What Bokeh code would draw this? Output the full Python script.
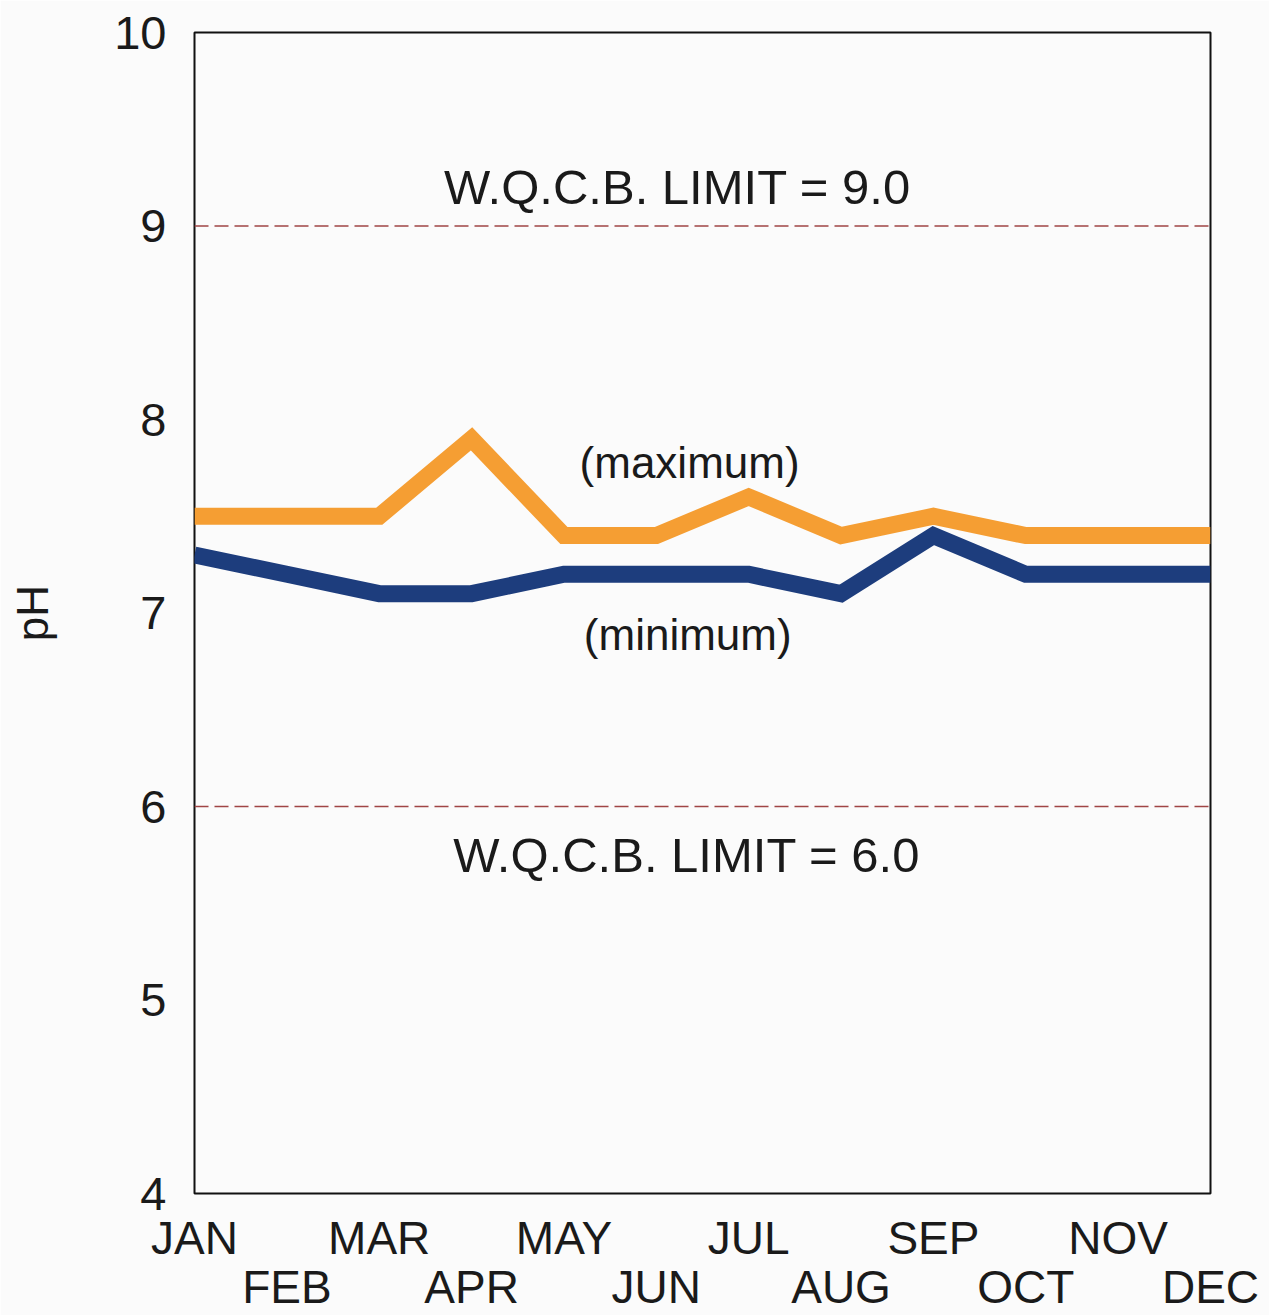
from bokeh.plotting import figure
from bokeh.models import LinearAxis, FixedTicker, Range1d, Span
from bokeh.core.properties import value
from bokeh.embed import file_html
from bokeh.resources import INLINE

months = ["JAN", "FEB", "MAR", "APR", "MAY", "JUN", "JUL", "AUG", "SEP", "OCT", "NOV", "DEC"]
ph_max = [7.5, 7.5, 7.5, 7.9, 7.4, 7.4, 7.6, 7.4, 7.5, 7.4, 7.4, 7.4]
ph_min = [7.3, 7.2, 7.1, 7.1, 7.2, 7.2, 7.2, 7.1, 7.4, 7.2, 7.2, 7.2]
y_ticks = [4, 5, 6, 7, 8, 9, 10]
limit_high = 9.0
limit_low = 6.0

FONT = "Liberation Sans"
TXT = "#1a1a1a"
BG = "#fbfbfb"

xs = list(range(len(months)))

p = figure(width=1269, height=1315, output_backend="svg", toolbar_location=None,
           x_range=Range1d(0, len(months) - 1), y_range=Range1d(4, 10),
           x_axis_location=None, y_axis_location="left",
           min_border_left=194, min_border_right=59, min_border_top=32, min_border_bottom=120,
           background_fill_color=BG, border_fill_color=BG)
p.grid.visible = False
p.outline_line_color = "#111111"
p.outline_line_width = 2

ya = p.yaxis[0]
ya.ticker = FixedTicker(ticks=y_ticks)
ya.axis_line_color = None
ya.major_tick_line_color = None
ya.minor_tick_line_color = None
ya.major_label_text_font = FONT
ya.major_label_text_font_size = "47px"
ya.major_label_text_color = TXT
ya.major_label_standoff = 22
ya.axis_label = "pH"
ya.axis_label_text_font = FONT
ya.axis_label_text_font_size = "44px"
ya.axis_label_text_font_style = "normal"
ya.axis_label_text_color = TXT
ya.axis_label_standoff = 54

def month_axis(ticks, standoff):
    ax = LinearAxis(ticker=FixedTicker(ticks=ticks),
                    major_label_overrides={i: months[i] for i in ticks})
    ax.axis_line_color = None
    ax.major_tick_line_color = None
    ax.minor_tick_line_color = None
    ax.major_tick_out = 0
    ax.major_tick_in = 0
    ax.major_label_text_font = FONT
    ax.major_label_text_font_size = "46px"
    ax.major_label_text_color = TXT
    ax.major_label_standoff = standoff
    return ax

p.add_layout(month_axis(xs[0::2], 18), "below")
p.add_layout(month_axis(xs[1::2], -6), "below")

for lim in (limit_high, limit_low):
    p.add_layout(Span(location=lim, dimension="width", line_color="#a04545",
                      line_width=1.5, line_dash="14 6"))

p.line(xs, ph_max, line_color="#f59e33", line_width=17, line_join="miter")
p.line(xs, ph_min, line_color="#1d3d7d", line_width=17, line_join="miter")

p.text(x=[5.23], y=[9.2], text=["W.Q.C.B. LIMIT = 9.0"], text_font=value(FONT),
       text_font_size="49px", text_color=TXT, text_align="center", text_baseline="alphabetic")
p.text(x=[5.33], y=[5.75], text=["W.Q.C.B. LIMIT = 6.0"], text_font=value(FONT),
       text_font_size="49px", text_color=TXT, text_align="center", text_baseline="alphabetic")
p.text(x=[5.36], y=[7.78], text=["(maximum)"], text_font=value(FONT),
       text_font_size="44px", text_color=TXT, text_align="center", text_baseline="middle")
p.text(x=[5.34], y=[6.89], text=["(minimum)"], text_font=value(FONT),
       text_font_size="44px", text_color=TXT, text_align="center", text_baseline="middle")

open("out.html", "w").write(file_html(p, INLINE))
